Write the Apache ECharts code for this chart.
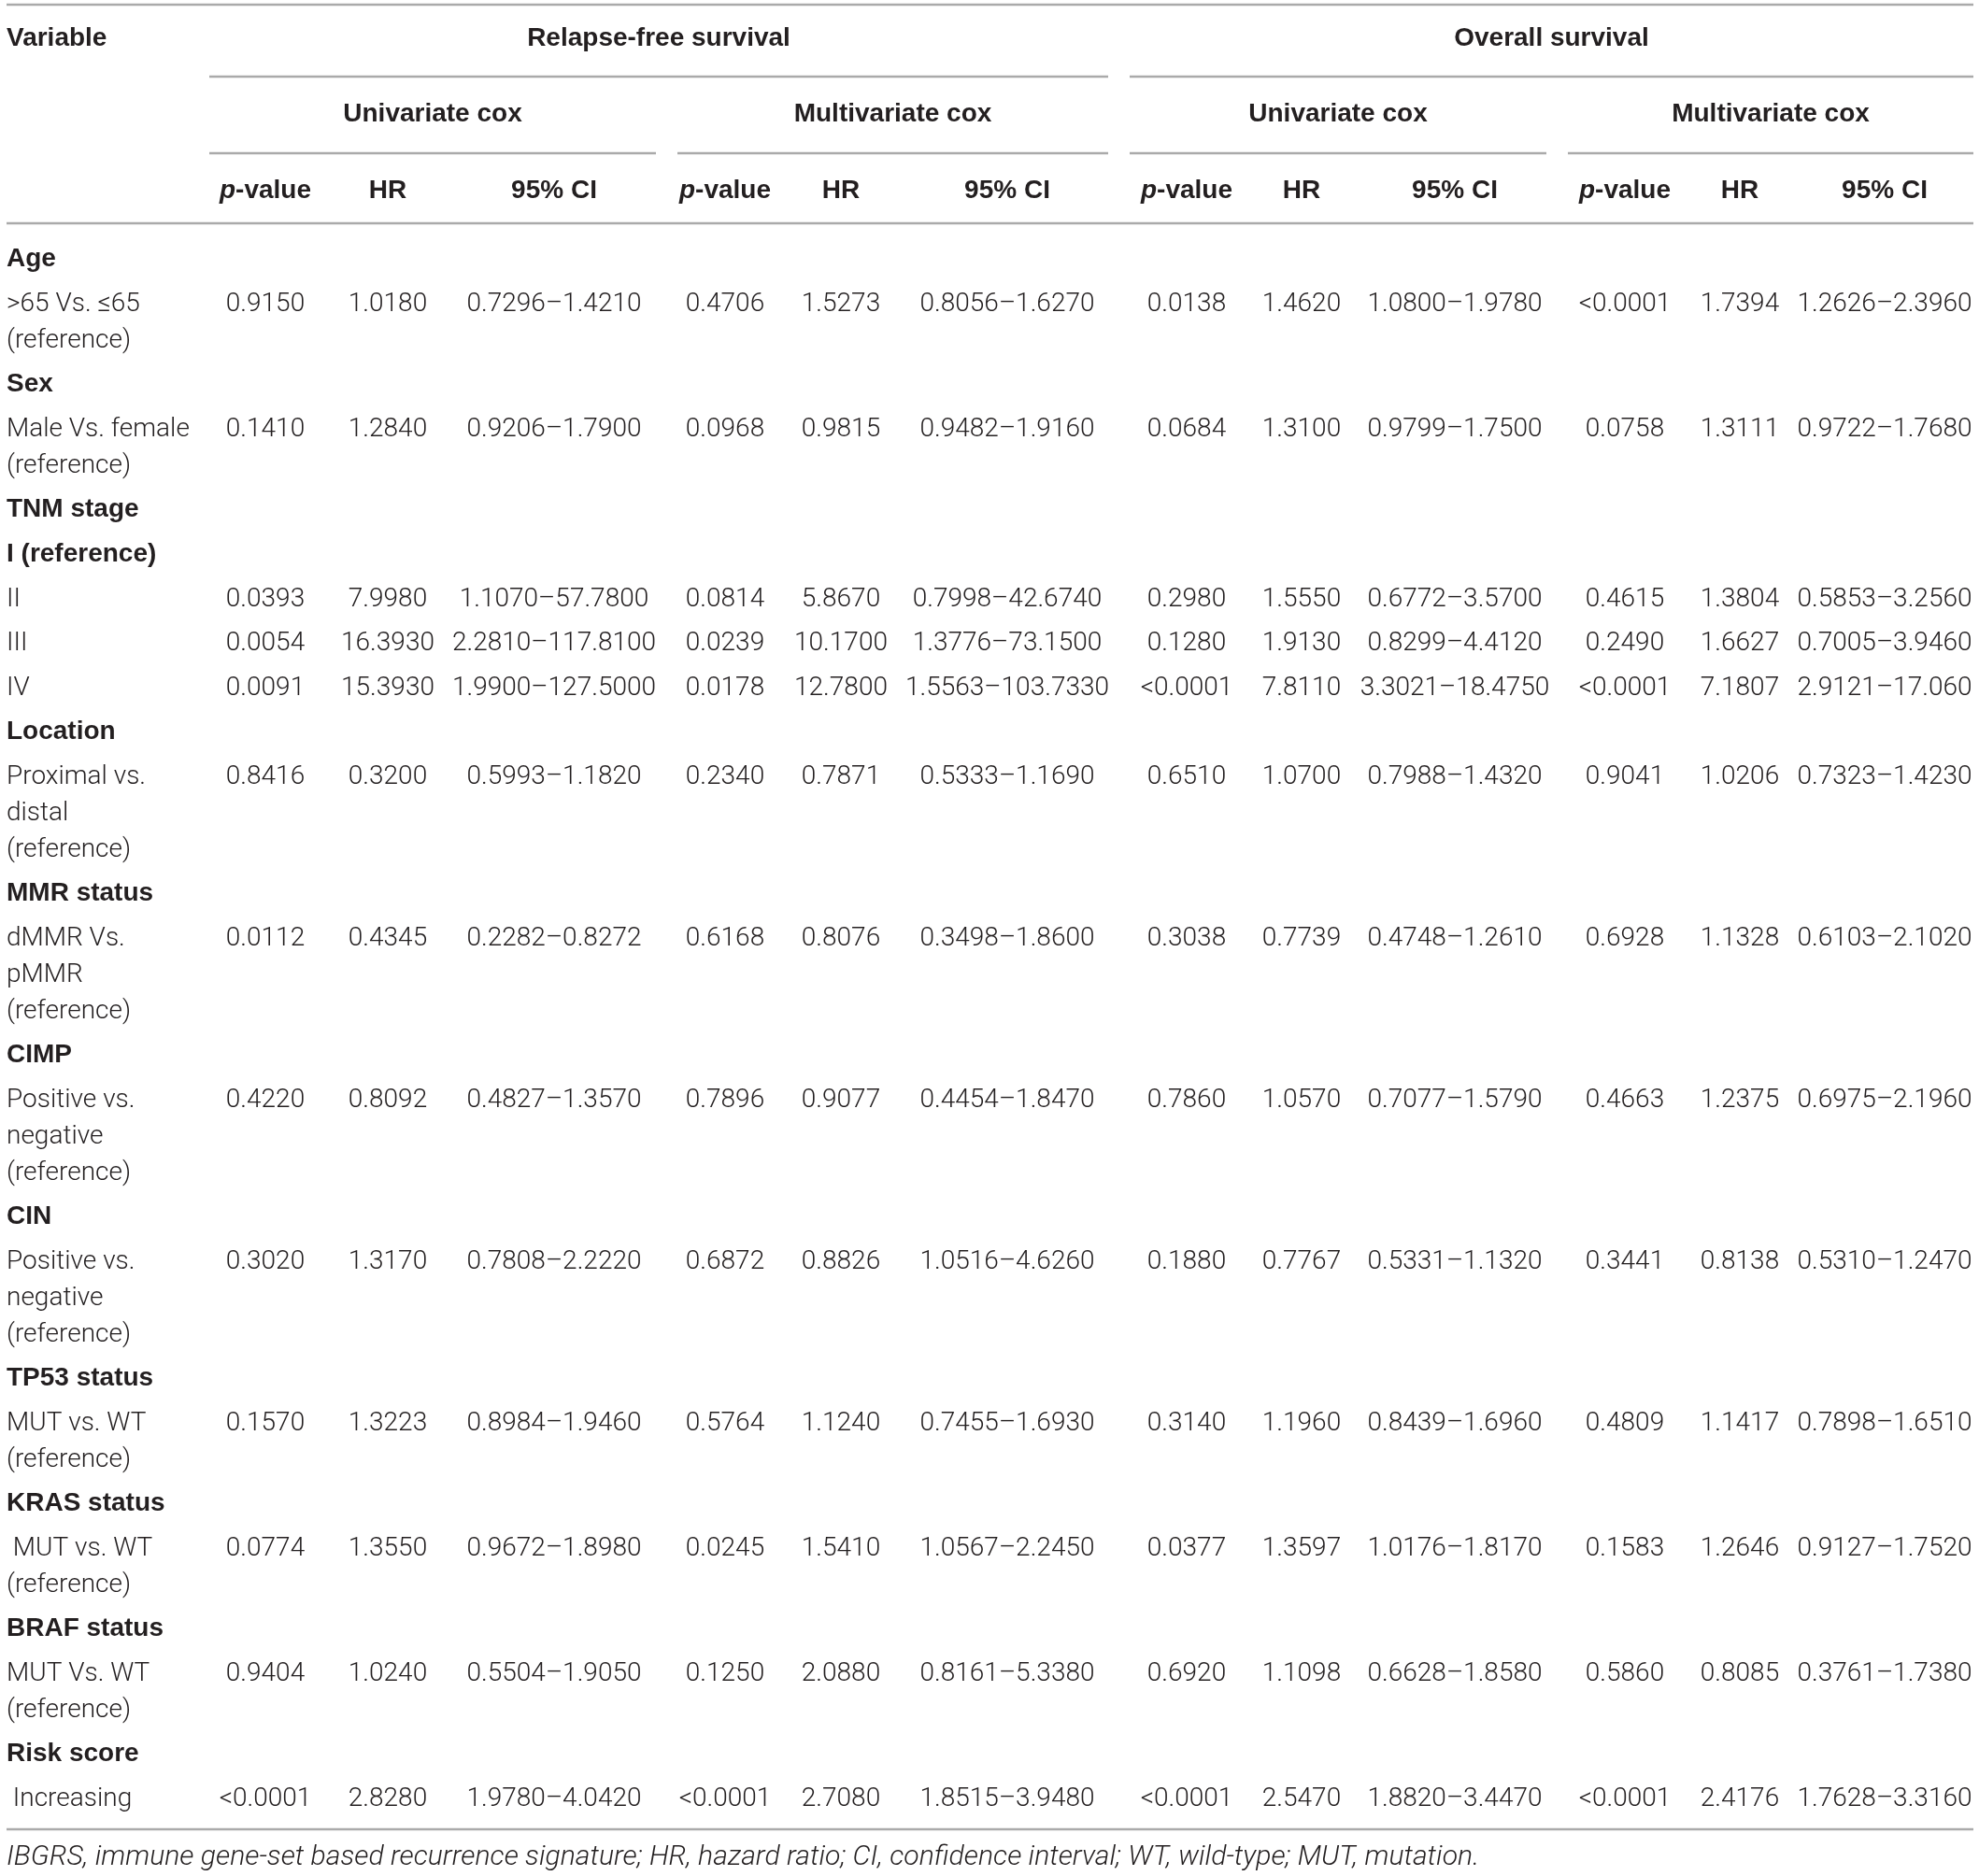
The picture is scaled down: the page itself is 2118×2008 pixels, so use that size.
<!DOCTYPE html>
<html><head><meta charset="utf-8">
<script src="https://cdn.jsdelivr.net/npm/echarts@6/dist/echarts.min.js"></script>
<style>html,body{margin:0;padding:0;background:#fff}#c{width:2118px;height:2008px}</style>
</head><body><div id="c"></div><script>
// ---------- DATA ----------
const rowLabels = ['Age','>65 Vs. \u226465\n(reference)','Sex','Male Vs. female\n(reference)','TNM stage','I (reference)','II','III','IV','Location','Proximal vs.\ndistal\n(reference)','MMR status','dMMR Vs.\npMMR\n(reference)','CIMP','Positive vs.\nnegative\n(reference)','CIN','Positive vs.\nnegative\n(reference)','TP53 status','MUT vs. WT\n(reference)','KRAS status',' MUT vs. WT\n(reference)','BRAF status','MUT Vs. WT\n(reference)','Risk score',' Increasing'];
const groupRows = [1,0,1,0,1,1,0,0,0,1,0,1,0,1,0,1,0,1,0,1,0,1,0,1,0];
const rfsUniP = ['0.9150','0.1410','0.0393','0.0054','0.0091','0.8416','0.0112','0.4220','0.3020','0.1570','0.0774','0.9404','<0.0001'];
const rfsUniHR = ['1.0180','1.2840','7.9980','16.3930','15.3930','0.3200','0.4345','0.8092','1.3170','1.3223','1.3550','1.0240','2.8280'];
const rfsUniCI = ['0.7296\u20131.4210','0.9206\u20131.7900','1.1070\u201357.7800','2.2810\u2013117.8100','1.9900\u2013127.5000','0.5993\u20131.1820','0.2282\u20130.8272','0.4827\u20131.3570','0.7808\u20132.2220','0.8984\u20131.9460','0.9672\u20131.8980','0.5504\u20131.9050','1.9780\u20134.0420'];
const rfsMultiP = ['0.4706','0.0968','0.0814','0.0239','0.0178','0.2340','0.6168','0.7896','0.6872','0.5764','0.0245','0.1250','<0.0001'];
const rfsMultiHR = ['1.5273','0.9815','5.8670','10.1700','12.7800','0.7871','0.8076','0.9077','0.8826','1.1240','1.5410','2.0880','2.7080'];
const rfsMultiCI = ['0.8056\u20131.6270','0.9482\u20131.9160','0.7998\u201342.6740','1.3776\u201373.1500','1.5563\u2013103.7330','0.5333\u20131.1690','0.3498\u20131.8600','0.4454\u20131.8470','1.0516\u20134.6260','0.7455\u20131.6930','1.0567\u20132.2450','0.8161\u20135.3380','1.8515\u20133.9480'];
const osUniP = ['0.0138','0.0684','0.2980','0.1280','<0.0001','0.6510','0.3038','0.7860','0.1880','0.3140','0.0377','0.6920','<0.0001'];
const osUniHR = ['1.4620','1.3100','1.5550','1.9130','7.8110','1.0700','0.7739','1.0570','0.7767','1.1960','1.3597','1.1098','2.5470'];
const osUniCI = ['1.0800\u20131.9780','0.9799\u20131.7500','0.6772\u20133.5700','0.8299\u20134.4120','3.3021\u201318.4750','0.7988\u20131.4320','0.4748\u20131.2610','0.7077\u20131.5790','0.5331\u20131.1320','0.8439\u20131.6960','1.0176\u20131.8170','0.6628\u20131.8580','1.8820\u20133.4470'];
const osMultiP = ['<0.0001','0.0758','0.4615','0.2490','<0.0001','0.9041','0.6928','0.4663','0.3441','0.4809','0.1583','0.5860','<0.0001'];
const osMultiHR = ['1.7394','1.3111','1.3804','1.6627','7.1807','1.0206','1.1328','1.2375','0.8138','1.1417','1.2646','0.8085','2.4176'];
const osMultiCI = ['1.2626\u20132.3960','0.9722\u20131.7680','0.5853\u20133.2560','0.7005\u20133.9460','2.9121\u201317.060','0.7323\u20131.4230','0.6103\u20132.1020','0.6975\u20132.1960','0.5310\u20131.2470','0.7898\u20131.6510','0.9127\u20131.7520','0.3761\u20131.7380','1.7628\u20133.3160'];
const outcomeTitles = ['Relapse-free survival','Overall survival'];
const modelTitles = ['Univariate cox','Multivariate cox','Univariate cox','Multivariate cox'];
const statTitles = ['p-value','HR','95% CI'];
const footnote = 'IBGRS, immune gene-set based recurrence signature; HR, hazard ratio; CI, confidence interval; WT, wild-type; MUT, mutation.';

// ---------- LAYOUT ----------
const W = 2118, H = 2008;
const FONT = 'Roboto, "Liberation Sans", sans-serif';
const BFONT = '"Liberation Sans", Arial, sans-serif';
const FS = 28, LH = 39, ROWH = 47.5, TSHIFT = 1.5, BSHIFT = 0.5;
const TXT = '#231f20', RULE = '#aaaaaa';
const labelX = 7;
const colCenters = [284, 415, 593, 776, 900, 1078, 1270, 1393, 1557, 1739, 1862, 2017];
const modelSpans = [[224, 702], [725, 1186], [1209, 1655], [1678, 2112]];
const outcomeSpans = [[224, 1186], [1209, 2112]];
const yTitle = 41, yRule1 = 82, yModel = 122, yRule2 = 164, yStat = 204, yRule3 = 239, yFirstRow = 277;
const columns = [rfsUniP, rfsUniHR, rfsUniCI, rfsMultiP, rfsMultiHR, rfsMultiCI, osUniP, osUniHR, osUniCI, osMultiP, osMultiHR, osMultiCI];

const cells = [];   // text cells
const rules = [];   // horizontal rules
function add(x, y, text, opt) { cells.push(Object.assign({ x, y, text }, opt || {})); }

// header
add(labelX, yTitle, 'Variable', { bold: true, align: 'left' });
outcomeTitles.forEach((t, i) => add((outcomeSpans[i][0] + outcomeSpans[i][1]) / 2, yTitle, t, { bold: true }));
modelTitles.forEach((t, i) => add((modelSpans[i][0] + modelSpans[i][1]) / 2, yModel, t, { bold: true }));
colCenters.forEach((cx, i) => add(cx, yStat, statTitles[i % 3], { bold: true, pval: i % 3 === 0 }));

// body
let y = yFirstRow, dataIdx = 0, lastY = 0;
rowLabels.forEach((lab, r) => {
  add(labelX, y, lab, { bold: !!groupRows[r], align: 'left' });
  if (!groupRows[r]) {
    columns.forEach((col, c) => add(colCenters[c], y, col[dataIdx]));
    dataIdx++;
  }
  lastY = y;
  y += ROWH + LH * (lab.split('\n').length - 1);
});
const yBottom = lastY + 34;
add(labelX, yBottom + 28.5, footnote, { italic: true, align: 'left', size: 30.2 });

rules.push([7, 2112, 5]);
outcomeSpans.forEach(s => rules.push([s[0], s[1], yRule1]));
modelSpans.forEach(s => rules.push([s[0], s[1], yRule2]));
rules.push([7, 2112, yRule3]);
rules.push([7, 2112, yBottom]);

const chart = echarts.init(document.getElementById('c'), null, { renderer: 'canvas' });
chart.setOption({
  animation: false,
  backgroundColor: '#ffffff',
  grid: { left: 0, right: 0, top: 0, bottom: 0 },
  xAxis: { type: 'value', min: 0, max: W, show: false },
  yAxis: { type: 'value', min: 0, max: H, inverse: true, show: false },
  series: [
    {
      type: 'custom', silent: true, clip: false,
      data: rules.map(r => [r[0], r[2], r[1]]),
      renderItem(params, api) {
        const r = rules[params.dataIndex];
        const a = api.coord([r[0], r[2]]), b = api.coord([r[1], r[2]]);
        return { type: 'line', shape: { x1: a[0], y1: a[1], x2: b[0], y2: b[1] }, style: { stroke: RULE, lineWidth: 2.5 } };
      }
    },
    {
      type: 'custom', silent: true, clip: false,
      data: cells.map(c => [c.x, c.y]),
      renderItem(params, api) {
        const c = cells[params.dataIndex];
        const p = api.coord([c.x, c.y]);
        const style = {
          text: c.text, fill: TXT, fontFamily: c.bold ? BFONT : FONT, fontSize: c.size || FS,
          fontWeight: c.bold ? 'bold' : 300, fontStyle: c.italic ? 'italic' : 'normal',
          align: c.align || 'center', verticalAlign: 'top', lineHeight: LH
        };
        if (c.pval) {
          style.text = '{i|p}{b|-value}';
          style.rich = {
            i: { fontFamily: BFONT, fontSize: FS, fontWeight: 'bold', fontStyle: 'italic', fill: TXT, lineHeight: LH },
            b: { fontFamily: BFONT, fontSize: FS, fontWeight: 'bold', fill: TXT, lineHeight: LH }
          };
        }
        return { type: 'text', x: p[0], y: p[1] - LH / 2 + (c.bold ? BSHIFT : TSHIFT), style };
      }
    }
  ]
});
</script></body></html>
